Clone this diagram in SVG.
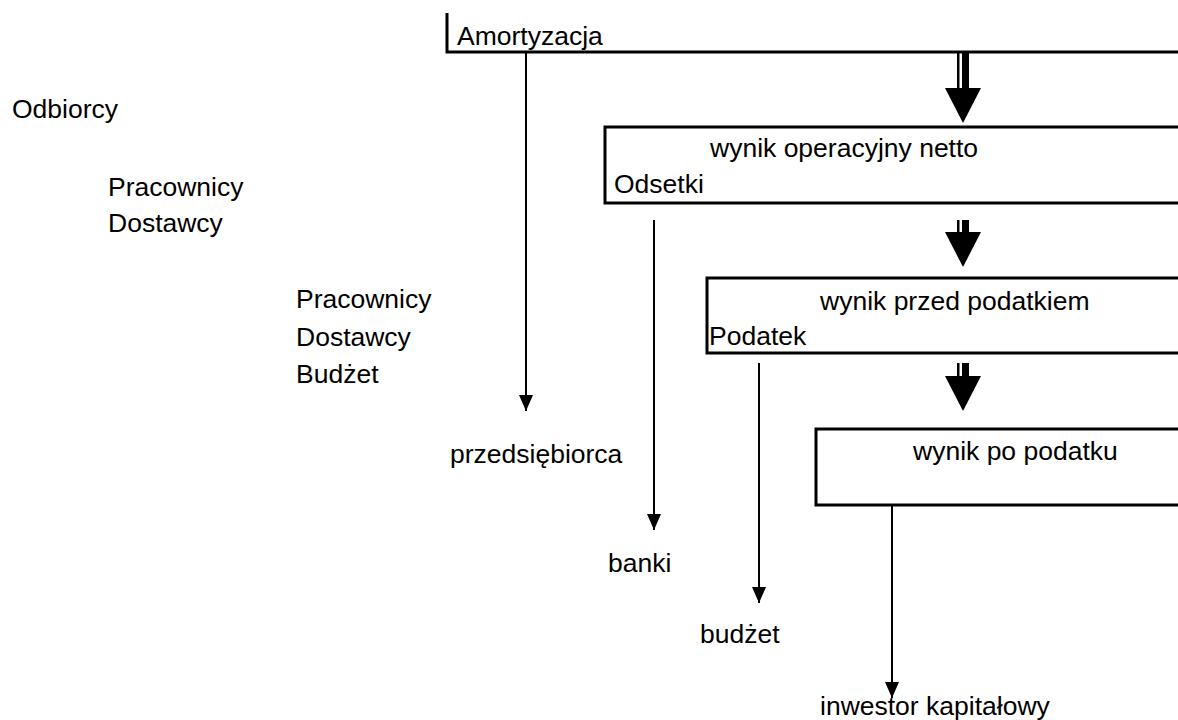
<svg xmlns="http://www.w3.org/2000/svg" width="1178" height="720" viewBox="0 0 1178 720">
  <style>
    text { font-family: "Liberation Sans", Arial, sans-serif; font-size: 26.5px; fill: #000; }
    .box { fill: none; stroke: #000; stroke-width: 3; }
    .flow { stroke: #000; stroke-width: 2; fill: none; }
    .head { fill: #000; }
  </style>
  <defs>
    <marker id="tip" markerWidth="16" markerHeight="14" refX="16" refY="7" orient="auto" markerUnits="userSpaceOnUse" viewBox="0 0 16 14">
      <path d="M0,0 L16,7 L0,14 Z" class="head"/>
    </marker>
    <!-- heavy arrowhead, tip at origin -->
    <path id="bigHead" d="M-18,-35 L18,-35 L0,0 Z" fill="#000"/>
  </defs>

  <!-- recipients on the left -->
  <g id="labels-left">
    <text x="12" y="118">Odbiorcy</text>
    <text x="108" y="196">Pracownicy</text>
    <text x="108" y="232">Dostawcy</text>
    <text x="296" y="308">Pracownicy</text>
    <text x="296" y="346">Dostawcy</text>
    <text x="296" y="383">Budżet</text>
  </g>

  <!-- top bracket: depreciation -->
  <g id="amortyzacja">
    <polyline class="box" points="447,13 447,52 1180,52"/>
    <text x="457" y="45">Amortyzacja</text>
  </g>

  <g id="wynik-operacyjny">
    <rect class="box" x="605" y="127" width="580" height="76"/>
    <text x="710" y="157">wynik operacyjny netto</text>
    <text x="614" y="193">Odsetki</text>
  </g>

  <g id="wynik-przed">
    <rect class="box" x="707" y="278" width="480" height="75"/>
    <text x="820" y="310">wynik przed podatkiem</text>
    <text x="709" y="345">Podatek</text>
  </g>

  <g id="wynik-po">
    <rect class="box" x="816" y="429" width="370" height="76"/>
    <text x="913" y="460">wynik po podatku</text>
  </g>

  <g id="przedsiebiorca"><text x="450" y="463">przedsiębiorca</text></g>
  <g id="banki"><text x="608" y="572">banki</text></g>
  <g id="budzet"><text x="700" y="643">budżet</text></g>
  <g id="inwestor"><text x="820" y="715">inwestor kapitałowy</text></g>

  <!-- connectors -->
  <g id="connectors">
    <!-- double-shafted flow arrows -->
    <rect x="957" y="53" width="2.5" height="36" fill="#000"/>
    <rect x="962" y="53" width="7" height="36" fill="#000"/>
    <use href="#bigHead" x="963" y="123"/>

    <rect x="957" y="220" width="2.5" height="13" fill="#000"/>
    <rect x="962" y="220" width="7" height="13" fill="#000"/>
    <use href="#bigHead" x="963" y="267"/>

    <rect x="957" y="363" width="2.5" height="13" fill="#000"/>
    <rect x="962" y="363" width="7" height="13" fill="#000"/>
    <use href="#bigHead" x="963" y="411"/>

    <line class="flow" x1="526" y1="52" x2="526" y2="411" marker-end="url(#tip)"/>
    <line class="flow" x1="654" y1="220" x2="654" y2="530" marker-end="url(#tip)"/>
    <line class="flow" x1="759" y1="363" x2="759" y2="603" marker-end="url(#tip)"/>
    <line class="flow" x1="892" y1="505" x2="892" y2="698" marker-end="url(#tip)"/>
  </g>
</svg>
